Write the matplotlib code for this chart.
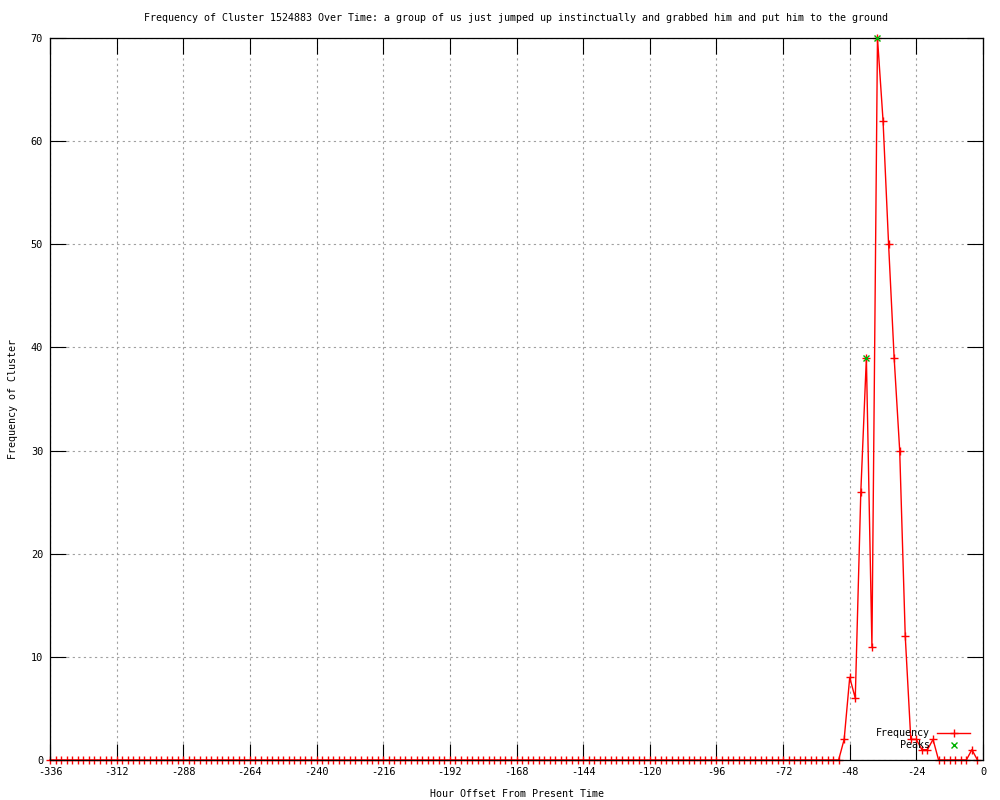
import matplotlib
matplotlib.use("Agg")
import matplotlib.pyplot as plt
from matplotlib.lines import Line2D

# hour offsets, one sample every 2 hours
hours = list(range(-336, 0, 2))
counts = [
    0, 0, 0, 0, 0, 0, 0, 0, 0, 0, 0, 0, 0, 0, 0, 0, 0, 0, 0, 0, 0, 0, 0, 0,
    0, 0, 0, 0, 0, 0, 0, 0, 0, 0, 0, 0, 0, 0, 0, 0, 0, 0, 0, 0, 0, 0, 0, 0,
    0, 0, 0, 0, 0, 0, 0, 0, 0, 0, 0, 0, 0, 0, 0, 0, 0, 0, 0, 0, 0, 0, 0, 0,
    0, 0, 0, 0, 0, 0, 0, 0, 0, 0, 0, 0, 0, 0, 0, 0, 0, 0, 0, 0, 0, 0, 0, 0,
    0, 0, 0, 0, 0, 0, 0, 0, 0, 0, 0, 0, 0, 0, 0, 0, 0, 0, 0, 0, 0, 0, 0, 0,
    0, 0, 0, 0, 0, 0, 0, 0, 0, 0, 0, 0, 0, 0, 0, 0, 0, 0, 0, 0, 0, 0, 0,
    2, 8, 6, 26, 39, 11, 70, 62, 50, 39, 30, 12, 2, 2, 1, 1, 2,
    0, 0, 0, 0, 0, 0, 1, 0,
]
peak_hours = [-42, -38]
peak_counts = [39, 70]

xticks = list(range(-336, 1, 24))
yticks = list(range(0, 71, 10))

title = ("Frequency of Cluster 1524883 Over Time: a group of us just jumped up "
         "instinctually and grabbed him and put him to the ground")

plt.rcParams['font.family'] = ['DejaVu Sans Mono']
plt.rcParams['axes.unicode_minus'] = False
fs = 7.4

fig = plt.figure(figsize=(10, 8), dpi=100)
ax = fig.add_axes([0.05, 0.05, 0.933, 0.9025])

ax.plot(hours, counts, color='#ff0000', lw=1.0, marker='+', ms=5.5, mew=1.0,
        clip_on=False, zorder=2)
ax.plot(peak_hours, peak_counts, ls='none', color='#00b000', marker='x', ms=5,
        mew=1.0, clip_on=False, zorder=3)

ax.set_xlim(-336, 0)
ax.set_ylim(0, 70)
ax.set_xticks(xticks)
ax.set_yticks(yticks)
ax.grid(True, color='#a0a0a0', ls=(0, (2, 3)), lw=0.8)
ax.tick_params(direction='in', length=11.5, width=0.8, top=True, right=True,
               labelsize=fs, pad=5)
for s in ax.spines.values():
    s.set_linewidth(0.9)
    s.set_color('black')

ax.set_title(title, fontsize=7.2, pad=12)
ax.set_xlabel("Hour Offset From Present Time", fontsize=7.2, labelpad=9)
ax.set_ylabel("Frequency of Cluster", fontsize=7.2, labelpad=9)

# legend in gnuplot style: right-aligned text, sample after it
fig.text(0.930, 0.0838, "Frequency", ha='right', va='center', fontsize=7.2)
fig.text(0.930, 0.0688, "Peaks", ha='right', va='center', fontsize=7.2)
fig.add_artist(Line2D([0.937, 0.970], [0.0838, 0.0838], color='#ff0000', lw=1.0))
fig.add_artist(Line2D([0.9535], [0.0838], color='#ff0000', marker='+', ms=5.5, mew=1.0))
fig.add_artist(Line2D([0.9535], [0.0688], color='#00b000', marker='x', ms=5, mew=1.0))

fig.savefig("out.png", dpi=100)
